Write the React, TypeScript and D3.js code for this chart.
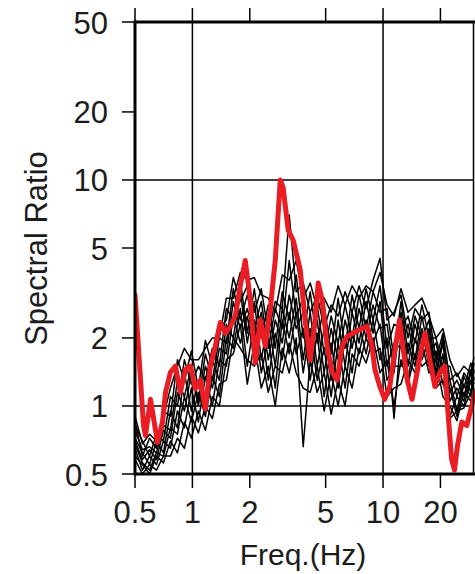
import React from "react";
import * as d3 from "d3";

const X_TICKS = [0.5, 1, 2, 5, 10, 20];
const X_TICK_LABELS = ["0.5", "1", "2", "5", "10", "20"];
const Y_TICKS = [0.5, 1, 2, 5, 10, 20, 50];
const Y_TICK_LABELS = ["0.5", "1", "2", "5", "10", "20", "50"];
const X_GRID = [1, 10];
const Y_GRID = [1, 10];

const RED_FREQ = [0.5, 0.554, 0.567, 0.603, 0.656, 0.697, 0.723, 0.767, 0.815, 0.865, 0.919, 0.976, 1.037, 1.101, 1.169, 1.242, 1.319, 1.401, 1.488, 1.581, 1.679, 1.783, 1.894, 2.012, 2.137, 2.27, 2.41, 2.56, 2.72, 2.89, 2.99, 3.18, 3.38, 3.68, 3.9, 4.15, 4.4, 4.57, 4.79, 5.09, 5.41, 5.74, 6.1, 6.48, 6.97, 7.58, 8.24, 8.75, 9.06, 9.62, 10.2, 10.85, 11.5, 12.2, 12.7, 13.4, 14.2, 15.1, 16.0, 16.6, 17.6, 18.7, 19.9, 21.1, 21.9, 22.9, 23.7, 24.6, 25.9, 27.5, 29.2, 30.3];
const RED_VALUES = [3.1, 0.82, 0.74, 1.07, 0.69, 0.85, 1.15, 1.41, 1.5, 1.15, 1.45, 1.5, 1.19, 1.3, 0.97, 1.5, 1.84, 2.34, 2.1, 2.25, 2.5, 3.4, 4.4, 2.96, 1.55, 2.4, 1.84, 2.67, 4.4, 10, 9.3, 6.0, 5.4, 4.0, 2.4, 1.6, 2.4, 3.5, 2.96, 1.84, 1.41, 1.3, 1.84, 2.03, 2.1, 2.18, 2.25, 1.84, 1.45, 1.22, 1.07, 1.22, 1.73, 2.4, 1.84, 1.3, 1.07, 1.41, 1.84, 2.1, 1.6, 1.22, 1.41, 1.5, 0.94, 0.58, 0.52, 0.67, 0.85, 0.82, 1.0, 1.15];

const BLACK_FREQ = [0.5, 0.547, 0.596, 0.648, 0.705, 0.767, 0.835, 0.908, 0.988, 1.075, 1.17, 1.273, 1.385, 1.507, 1.639, 1.784, 1.941, 2.112, 2.298, 2.5, 2.72, 2.96, 3.22, 3.504, 3.813, 4.148, 4.513, 4.911, 5.342, 5.813, 6.324, 6.882, 7.486, 8.147, 8.864, 9.645, 10.49, 11.42, 12.42, 13.52, 14.71, 16.0, 17.41, 18.95, 20.61, 22.43, 24.4, 26.56, 28.89, 30];

const BLACK_A = [0.85, 0.6, 0.72, 0.65, 0.95, 0.9, 1.6, 1.3, 1.75, 1.2, 1.95, 1.5, 2.2, 2.4, 3.7, 2.9, 3.4, 2.6, 3.3, 2.1, 2.9, 2.7, 7.0, 3.2, 3.5, 2.6, 3.1, 2.2, 2.8, 2.5, 3.2, 2.6, 3.4, 2.7, 3.6, 4.5, 2.4, 2.6, 3.1, 2.0, 2.7, 2.4, 2.6, 1.6, 2.1, 1.3, 1.4, 1.2, 1.55, 1.4];
const BLACK_B = [0.6, 0.55, 0.5, 0.6, 0.56, 0.7, 0.62, 0.85, 0.72, 0.95, 0.78, 1.1, 1.0, 1.6, 1.7, 2.3, 1.25, 1.9, 1.2, 1.5, 1.0, 1.8, 1.4, 2.0, 0.66, 1.6, 1.15, 1.4, 0.92, 1.3, 1.0, 1.7, 1.5, 2.0, 1.7, 1.8, 1.1, 1.2, 1.25, 1.6, 1.4, 1.9, 1.4, 1.6, 1.1, 1.0, 0.86, 1.15, 1.05, 1.2];
const BLACK_C = [0.72, 0.62, 0.55, 0.7, 0.62, 0.95, 0.8, 1.4, 0.95, 1.3, 1.05, 1.6, 1.3, 2.3, 2.0, 3.2, 1.9, 2.9, 1.6, 2.4, 1.5, 2.7, 2.0, 3.0, 1.6, 2.6, 1.5, 2.2, 1.3, 2.4, 1.5, 2.6, 1.9, 2.9, 2.1, 2.9, 1.5, 1.9, 1.8, 2.3, 1.6, 2.5, 1.7, 1.9, 1.4, 1.3, 0.95, 1.35, 1.15, 1.45];
const BLACK_D = [0.78, 0.64, 0.66, 0.62, 0.82, 0.78, 1.3, 1.1, 1.5, 1.05, 1.7, 1.3, 2.0, 1.9, 3.3, 2.4, 3.1, 2.2, 2.9, 1.8, 2.7, 2.2, 4.4, 2.5, 3.0, 2.0, 2.8, 1.7, 2.5, 1.9, 2.8, 2.0, 3.1, 2.2, 3.2, 2.6, 2.7, 1.6, 2.9, 1.7, 2.5, 2.0, 2.4, 1.4, 2.0, 1.15, 1.3, 1.1, 1.45, 1.3];
const BLACK_E = [0.65, 0.52, 0.6, 0.55, 0.7, 0.65, 0.95, 0.8, 1.2, 0.85, 1.35, 1.0, 1.6, 1.5, 2.5, 1.9, 2.5, 1.6, 2.3, 1.3, 2.1, 1.6, 2.6, 1.7, 2.2, 1.3, 2.1, 1.1, 1.9, 1.2, 2.0, 1.4, 2.3, 1.7, 2.4, 1.6, 2.0, 0.88, 2.1, 1.3, 2.0, 1.6, 2.0, 1.25, 1.7, 0.9, 1.1, 1.0, 1.3, 1.15];
const BLACK_F = [0.82, 0.7, 0.6, 0.75, 0.7, 1.1, 1.0, 1.6, 1.25, 1.5, 1.3, 1.8, 1.5, 2.7, 2.4, 3.6, 2.1, 3.3, 2.0, 2.8, 1.8, 3.2, 2.4, 3.8, 2.0, 3.2, 1.9, 2.8, 1.7, 3.0, 1.8, 3.1, 2.2, 3.3, 2.4, 3.4, 1.8, 2.3, 2.2, 2.5, 1.9, 2.8, 2.0, 2.0, 1.5, 1.5, 1.1, 1.4, 1.25, 1.55];
const BLACK_G = [0.58, 0.5, 0.55, 0.52, 0.6, 0.6, 0.72, 0.65, 0.9, 0.76, 1.0, 0.88, 1.25, 1.3, 2.0, 1.8, 1.6, 1.5, 1.7, 1.15, 1.5, 1.4, 1.9, 1.4, 1.2, 1.15, 1.5, 0.95, 1.4, 1.0, 1.5, 1.2, 1.8, 1.55, 2.0, 1.4, 1.6, 1.0, 1.6, 1.25, 1.7, 1.5, 1.6, 1.2, 1.3, 0.88, 0.95, 0.98, 1.15, 1.1];
const BLACK_H = [0.7, 0.58, 0.64, 0.58, 0.78, 0.72, 1.15, 0.95, 1.4, 1.0, 1.5, 1.2, 1.8, 1.7, 2.9, 2.2, 2.7, 2.0, 2.6, 1.6, 2.4, 1.9, 3.1, 2.2, 2.6, 1.7, 2.4, 1.4, 2.2, 1.6, 2.4, 1.8, 2.7, 2.0, 2.8, 2.2, 2.3, 1.4, 2.6, 1.5, 2.3, 1.8, 2.2, 1.35, 1.9, 1.05, 1.2, 1.05, 1.4, 1.25];
const BLACK_I = [0.9, 0.68, 0.75, 0.7, 0.9, 1.2, 1.5, 1.8, 1.6, 1.6, 1.8, 2.0, 2.0, 3.0, 3.0, 3.9, 3.6, 3.7, 3.1, 3.0, 2.6, 3.8, 3.6, 4.4, 3.0, 3.5, 2.7, 3.0, 2.6, 3.4, 2.8, 3.4, 3.0, 3.4, 3.2, 3.9, 2.8, 2.5, 3.3, 2.6, 2.8, 3.0, 2.5, 2.0, 2.2, 1.6, 1.35, 1.5, 1.4, 1.65];
const BLACK_J = [0.68, 0.56, 0.52, 0.62, 0.6, 0.8, 0.75, 1.1, 0.85, 1.15, 0.9, 1.35, 1.1, 2.0, 1.8, 2.7, 1.5, 2.4, 1.4, 2.0, 1.2, 2.4, 1.7, 2.6, 1.4, 2.2, 1.3, 1.8, 1.1, 1.9, 1.2, 2.1, 1.7, 2.4, 1.9, 2.3, 1.3, 1.5, 1.5, 1.9, 1.5, 2.2, 1.5, 1.75, 1.25, 1.2, 0.9, 1.25, 1.1, 1.35];

const BLACK_SERIES = [BLACK_A, BLACK_B, BLACK_C, BLACK_D, BLACK_E, BLACK_F, BLACK_G, BLACK_H, BLACK_I, BLACK_J];

const W = 475;
const H = 574;
const LEFT = 135;
const RIGHT = 474;
const TOP = 22;
const BOTTOM = 474;
const FONT = "'Liberation Sans', Arial, sans-serif";
const TEXT_COLOR = "#1c1c1c";

export default function App() {
  const x = d3.scaleLog().domain([0.5, 30]).range([LEFT, RIGHT]);
  const y = d3.scaleLog().domain([0.5, 50]).range([BOTTOM, TOP]);

  const line = d3
    .line<[number, number]>()
    .x((d) => x(d[0]))
    .y((d) => y(d[1]));

  const redPath = line(RED_FREQ.map((f, i) => [f, RED_VALUES[i]] as [number, number])) || "";
  const blackPaths = BLACK_SERIES.map(
    (s) => line(BLACK_FREQ.map((f, i) => [f, s[i]] as [number, number])) || ""
  );

  return (
    <svg
      width={W}
      height={H}
      style={{ position: "absolute", left: 0, top: 0, background: "#fff" }}
      fontFamily={FONT}
    >
      <defs>
        <clipPath id="plotClip">
          <rect x={LEFT} y={TOP} width={W - LEFT} height={BOTTOM - TOP} />
        </clipPath>
      </defs>
      <rect x={0} y={0} width={W} height={H} fill="#fff" />

      {X_GRID.map((g) => (
        <line key={"xg" + g} x1={x(g)} x2={x(g)} y1={TOP} y2={BOTTOM} stroke="#000" strokeWidth={1.5} />
      ))}
      {Y_GRID.map((g) => (
        <line key={"yg" + g} x1={LEFT} x2={RIGHT} y1={y(g)} y2={y(g)} stroke="#000" strokeWidth={1.5} />
      ))}

      <g clipPath="url(#plotClip)">
        {blackPaths.map((p, i) => (
          <path key={i} d={p} fill="none" stroke="#000" strokeWidth={1.5} strokeLinejoin="round" />
        ))}
        <path d={redPath} fill="none" stroke="#ea1c24" strokeWidth={5} strokeLinejoin="round" strokeLinecap="round" />
      </g>

      <line x1={LEFT} x2={LEFT} y1={TOP - 1.5} y2={BOTTOM + 1.5} stroke="#000" strokeWidth={3} />
      <line x1={LEFT} x2={W} y1={TOP} y2={TOP} stroke="#000" strokeWidth={3} />
      <line x1={LEFT} x2={W} y1={BOTTOM} y2={BOTTOM} stroke="#000" strokeWidth={3} />
      <line x1={RIGHT - 0.5} x2={RIGHT - 0.5} y1={TOP} y2={BOTTOM} stroke="#000" strokeWidth={1.5} />

      {X_TICKS.map((t, i) => (
        <g key={"xt" + t}>
          <line x1={x(t)} x2={x(t)} y1={TOP} y2={TOP - 14} stroke="#000" strokeWidth={1.5} />
          <line x1={x(t)} x2={x(t)} y1={BOTTOM} y2={BOTTOM + 14} stroke="#000" strokeWidth={1.5} />
          <text x={x(t)} y={523} textAnchor="middle" fontSize={31} fill={TEXT_COLOR}>
            {X_TICK_LABELS[i]}
          </text>
        </g>
      ))}

      {Y_TICKS.map((t, i) => (
        <g key={"yt" + t}>
          <line x1={LEFT} x2={LEFT - 13} y1={y(t)} y2={y(t)} stroke="#000" strokeWidth={1.5} />
          <text x={108} y={y(t) + 11.5} textAnchor="end" fontSize={31} fill={TEXT_COLOR}>
            {Y_TICK_LABELS[i]}
          </text>
        </g>
      ))}

      <text x={303} y={565} textAnchor="middle" fontSize={30} fill={TEXT_COLOR}>
        Freq.(Hz)
      </text>
      <text
        transform="translate(47,248.5) rotate(-90)"
        textAnchor="middle"
        fontSize={31}
        fill={TEXT_COLOR}
      >
        Spectral Ratio
      </text>
    </svg>
  );
}
